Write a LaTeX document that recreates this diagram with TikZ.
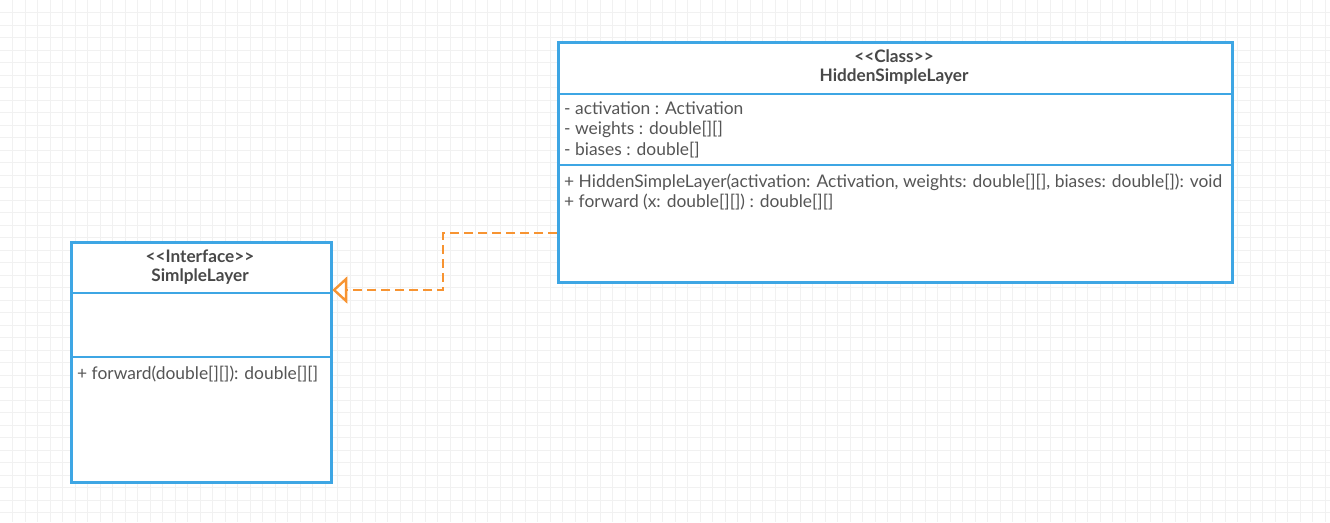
\documentclass[tikz,border=0pt]{standalone}
\usepackage{fontspec}
\setmainfont{Lato}
\usetikzlibrary{arrows.meta,calc}
\definecolor{umlblue}{RGB}{62,166,228}
\definecolor{umlorange}{RGB}{247,148,50}
\definecolor{txt}{RGB}{85,85,85}
\definecolor{hdr}{RGB}{72,72,72}
\definecolor{gridc}{RGB}{241,241,241}
\tikzset{
  umlbox/.style={draw=umlblue, line width=2.6pt, fill=white, anchor=north west, inner sep=0pt},
  divider/.style={draw=umlblue, line width=2.6pt},
  member/.style={anchor=west, inner sep=0pt, text=txt, font=\fontsize{17.4}{20}\selectfont},
  stereo/.style={anchor=center, inner sep=0pt, text=hdr, font=\fontsize{17.2}{20}\selectfont\bfseries},
  realize/.style={draw=umlorange, line width=2.4pt, dash pattern=on 9pt off 5pt},
  opentri/.style={draw=umlorange, line width=2.4pt, fill=white, line join=miter},
}
\begin{document}
\begin{tikzpicture}[x=1pt,y=-1pt]
\useasboundingbox (0,0) rectangle (1330,522);
\fill[white] (0,0) rectangle (1330,522);
\foreach \i in {1,...,106} {\draw[gridc, line width=0.8pt] (\i*12.5,0) -- (\i*12.5,522);}
\foreach \j in {1,...,41} {\draw[gridc, line width=0.8pt] (0,\j*12.5) -- (1330,\j*12.5);}

% Class box
\node[umlbox, minimum width=674pt, minimum height=240pt] (cls) at (557,41) {};
\draw[divider] (557,94) -- (1231,94);
\draw[divider] (557,165) -- (1231,165);
\node[stereo] (clsst) at (894,56) {{<}{<}Class{>}{>}};
\node[stereo] (clsname) at (894,77) {HiddenSimpleLayer};
\node[member] (a1) at (564,108) {- activation : Activation};
\node[member] (a2) at (564,129) {- weights : double[][]};
\node[member] (a3) at (564,150) {- biases : double[]};
\node[member] (m1) at (564,182) {+ HiddenSimpleLayer(activation: Activation, weights: double[][], biases: double[]): void};
\node[member] (m2) at (564,202) {+ forward (x: double[][]) : double[][]};

% Interface box
\node[umlbox, minimum width=260pt, minimum height=240pt] (ifc) at (70,241) {};
\draw[divider] (70,293) -- (330,293);
\draw[divider] (70,357) -- (330,357);
\node[stereo] (ifcst) at (200,256) {{<}{<}Interface{>}{>}};
\node[stereo] (ifcname) at (200,277) {SimlpleLayer};
\node[member] (im1) at (77,374) {+ forward(double[][]): double[][]};

% Realization
\coordinate (src) at (cls.west |- 0,233);
\coordinate (dst) at ($(ifc.east |- 0,290)+(1.5,0)$);
\coordinate (bend1) at (443,233);
\coordinate (bend2) at (443,290);
\coordinate (tribase) at ($(dst)+(12,0)$);
\draw[realize] (src) -- (bend1) -- (bend2) -- (tribase);
\draw[opentri] (dst) -- ($(tribase)+(0,-11)$) -- ($(tribase)+(0,11)$) -- cycle;
\end{tikzpicture}
\end{document}
